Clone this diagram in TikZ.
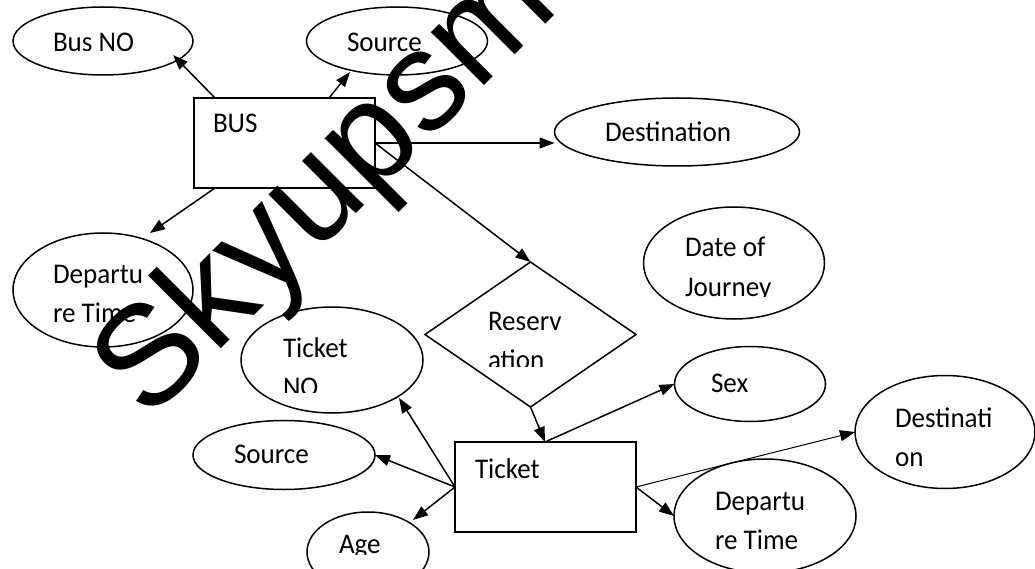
\documentclass[tikz,border=0pt]{standalone}
\usepackage{fontspec}
\setmainfont{Carlito}[FakeStretch=0.95]
\newfontfamily\wmfont{Liberation Sans}
\usetikzlibrary{shapes.geometric,arrows.meta,calc}
\begin{document}
\begin{tikzpicture}[x=1pt,y=-1pt,
  every node/.style={inner sep=0pt, outer sep=0pt},
  attr/.style={ellipse, draw, line width=1.5pt},
  ent/.style={rectangle, draw, line width=1.5pt},
  rel/.style={diamond, draw, line width=1.5pt},
  lbl/.style={anchor=base west, font=\fontsize{28.5}{28.5}\selectfont},
  conn/.style={line width=1.5pt, -{Triangle[length=15pt,width=11pt]}},
]
\useasboundingbox (0,0) rectangle (1035,569);
\clip (0,0) rectangle (1035,569);
% entities
\node[ent, minimum width=181pt, minimum height=90pt] (bus) at (284.5,143) {};
\node[ent, minimum width=181pt, minimum height=90pt] (ticket) at (545.5,487) {};
% relationship
\node[rel, minimum width=211pt, minimum height=145pt] (resv) at (530.5,334.5) {};
% attributes
\node[attr, minimum width=180pt, minimum height=68pt] (busno) at (103,41) {};
\node[attr, minimum width=181pt, minimum height=68pt] (src1) at (397,41) {};
\node[attr, minimum width=245pt, minimum height=68pt] (dst1) at (677,132) {};
\node[attr, minimum width=180pt, minimum height=114pt] (dep1) at (103,290) {};
\node[attr, minimum width=182pt, minimum height=106pt] (tkno) at (332,360) {};
\node[attr, minimum width=181pt, minimum height=112pt] (date) at (734,263) {};
\node[attr, minimum width=151pt, minimum height=75pt] (sex) at (750,384) {};
\node[attr, minimum width=180pt, minimum height=113pt] (dst2) at (945,432) {};
\node[attr, minimum width=182pt, minimum height=114pt] (dep2) at (765,516) {};
\node[attr, minimum width=182pt, minimum height=69pt] (src2) at (284,455) {};
\node[attr, minimum width=122pt, minimum height=80pt] (age) at (368,552) {};
% labels
\node[lbl] (busT) at (213,133) {BUS};
\node[lbl] (ticketT) at (475,478) {Ticket};
\node[lbl] (busnoT) at (53,52) {Bus NO};
\node[lbl] (src1T) at (347,52) {Source};
\node[lbl] (dst1T) at (605,142) {Destination};
\node[lbl] (dep1Ta) at (53,283) {Departu};
\node[lbl] (dep1Tb) at (53,322) {re Time};
\node[lbl] (tknoTa) at (283,357) {Ticket};
\begin{scope}
\clip (0,0) rectangle (1035,392);
\node[lbl] (tknoTb) at (283,396) {NO};
\end{scope}
\node[lbl] (resvTa) at (488,330) {Reserv};
\begin{scope}
\clip (0,0) rectangle (1035,366);
\node[lbl] (resvTb) at (488,369) {ation};
\end{scope}
\node[lbl] (dateTa) at (685,257) {Date of};
\begin{scope}
\clip (0,0) rectangle (1035,296);
\node[lbl] (dateTb) at (685,296) {Journey};
\end{scope}
\node[lbl] (sexT) at (711,392) {Sex};
\node[lbl] (dst2Ta) at (895,427) {Destinati};
\node[lbl] (dst2Tb) at (895,466) {on};
\node[lbl] (dep2Ta) at (715,510) {Departu};
\node[lbl] (dep2Tb) at (715,549) {re Time};
\node[lbl] (src2T) at (234,463) {Source};
\begin{scope}
\clip (0,0) rectangle (1035,554);
\node[lbl] (ageT) at (339,553) {Age};
\end{scope}
% connectors
\draw[conn] ($(bus.north west)+(21,0)$) -- ($(busno.center)+(70,14)$);
\draw[conn] ($(bus.north west)+(135,0)$) -- ($(src1.center)+(-47,31)$);
\draw[conn] (bus.east) -- (bus.east -| dst1.west);
\draw[conn] (bus.east) -- (resv.north);
\draw[conn] ($(bus.south west)+(21,0)$) -- ($(dep1.center)+(47,-57)$);
\draw[conn] (resv.south) -- ($(ticket.north west)+(90,0)$);
\draw[conn] ($(ticket.north west)+(90,0)$) -- (sex.west);
\draw[conn, line width=1pt] ($(ticket.north east)+(0,45)$) -- (dst2.west);
\draw[conn] ($(ticket.north east)+(0,45)$) -- (dep2.west);
\draw[conn] ($(ticket.north west)+(0,45)$) -- ($(tkno.center)+(67,38)$);
\draw[conn] ($(ticket.north west)+(0,45)$) -- (src2.east);
\draw[conn] ($(ticket.north west)+(0,45)$) -- ($(age.center)+(45,-32)$);
% watermark
\node[anchor=base west, rotate=45, font=\wmfont\fontsize{142}{142}\selectfont] (wm) at (148,422) {Skyupsmedia};
\end{tikzpicture}
\end{document}
